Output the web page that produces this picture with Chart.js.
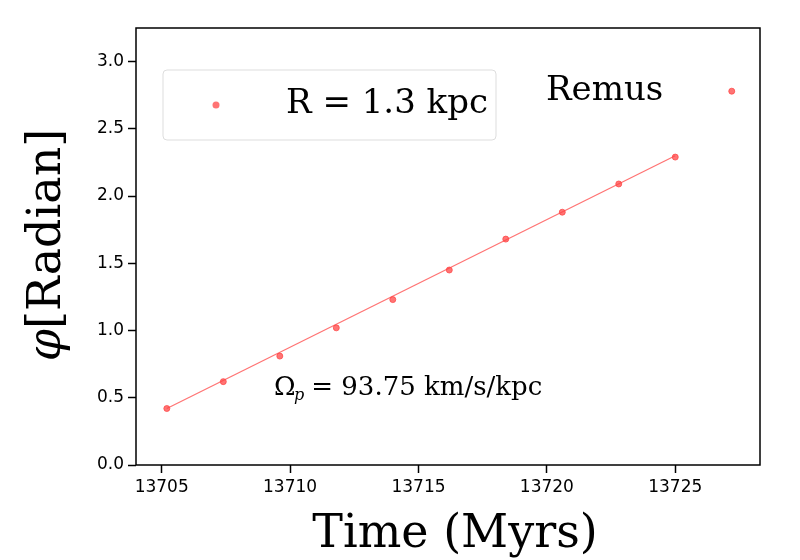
<!DOCTYPE html>
<html><head><meta charset="utf-8">
<script src="https://cdn.jsdelivr.net/npm/chart.js@4"></script>
<style>html,body{margin:0;background:#fff}#wrap{width:800px;height:560px}</style>
</head><body><div id="wrap"><canvas id="c"></canvas></div>
<script>
// measured phase vs time
const timeMyr = [13705.2, 13707.4, 13709.6, 13711.8, 13714.0, 13716.2, 13718.4, 13720.6, 13722.8, 13725.0, 13727.2];
const phiRad  = [0.42, 0.62, 0.81, 1.02, 1.23, 1.45, 1.68, 1.88, 2.09, 2.29, 2.78];
const fitTime = [13705.2, 13725.0];
const fitPhi  = [0.42, 2.30];
const xTicks = [13705, 13710, 13715, 13720, 13725];

const red = 'rgba(255,70,70,0.75)';

const textPlugin = {
  id: 'texts',
  afterDraw(chart) {
    const ctx = chart.ctx, a = chart.chartArea;
    ctx.save();
    ctx.strokeStyle = '#000'; ctx.lineWidth = 1.5;
    ctx.strokeRect(a.left, a.top, a.right - a.left, a.bottom - a.top);
    // legend box
    ctx.fillStyle = 'rgba(255,255,255,0.8)';
    ctx.strokeStyle = '#ddd'; ctx.lineWidth = 1;
    ctx.beginPath(); ctx.roundRect(163, 70, 333, 70, 4); ctx.fill(); ctx.stroke();
    ctx.fillStyle = red;
    ctx.beginPath(); ctx.arc(216, 105, 3.5, 0, Math.PI * 2); ctx.fill();
    ctx.fillStyle = '#000';
    ctx.textBaseline = 'middle';
    ctx.font = '34px "DejaVu Serif", serif';
    ctx.fillText('R = 1.3 kpc', 286, 104);
    ctx.fillText('Remus', 546, 91);
    ctx.font = '26px "DejaVu Serif", serif';
    ctx.fillText('Ω', 274, 388);
    ctx.font = 'italic 16px "DejaVu Serif", serif';
    ctx.fillText('p', 294, 396);
    ctx.font = '26px "DejaVu Serif", serif';
    ctx.fillText(' = 93.75 km/s/kpc', 303, 388);
    // axis titles
    ctx.textAlign = 'center';
    ctx.font = '46px "DejaVu Serif", serif';
    ctx.fillText('Time (Myrs)', 455, 535);
    ctx.translate(48, 245); ctx.rotate(-Math.PI / 2);
    ctx.font = 'italic 46px "DejaVu Serif", serif';
    ctx.textAlign = 'left';
    const w1 = ctx.measureText('φ').width;
    ctx.font = '46px "DejaVu Serif", serif';
    const w2 = ctx.measureText('[Radian]').width;
    const x0 = -(w1 + w2) / 2;
    ctx.font = 'italic 46px "DejaVu Serif", serif';
    ctx.fillText('φ', x0, 0);
    ctx.font = '46px "DejaVu Serif", serif';
    ctx.fillText('[Radian]', x0 + w1, 0);
    ctx.restore();
  }
};

const tickGrid = { display: true, drawOnChartArea: false, drawTicks: true, tickLength: 8, tickWidth: 1.5, tickColor: '#000' };

new Chart(document.getElementById('c'), {
  type: 'scatter',
  data: {
    datasets: [
      { data: fitTime.map((t, i) => ({ x: t, y: fitPhi[i] })), showLine: true, borderColor: red, borderWidth: 1.3, pointRadius: 0 },
      { data: timeMyr.map((t, i) => ({ x: t, y: phiRad[i] })), backgroundColor: red, borderColor: red, pointRadius: 3 }
    ]
  },
  options: {
    responsive: true, maintainAspectRatio: false, animation: false,
    layout: { padding: { top: 28, right: 40 } },
    plugins: { legend: { display: false }, tooltip: { enabled: false } },
    scales: {
      x: {
        type: 'linear', min: 13704, max: 13728.3,
        afterBuildTicks: s => { s.ticks = xTicks.map(v => ({ value: v })); },
        afterFit: s => { s.height = 95; },
        grid: tickGrid,
        border: { display: false },
        ticks: { color: '#000', font: { size: 17, family: 'DejaVu Sans' }, padding: 4, callback: v => String(v) }
      },
      y: {
        min: 0, max: 3.25,
        afterBuildTicks: s => { s.ticks = [0, 0.5, 1, 1.5, 2, 2.5, 3].map(v => ({ value: v })); },
        afterFit: s => { s.width = 136; },
        grid: tickGrid,
        border: { display: false },
        ticks: { color: '#000', font: { size: 17, family: 'DejaVu Sans' }, padding: 4, callback: v => v.toFixed(1) }
      }
    }
  },
  plugins: [textPlugin]
});
</script></body></html>
